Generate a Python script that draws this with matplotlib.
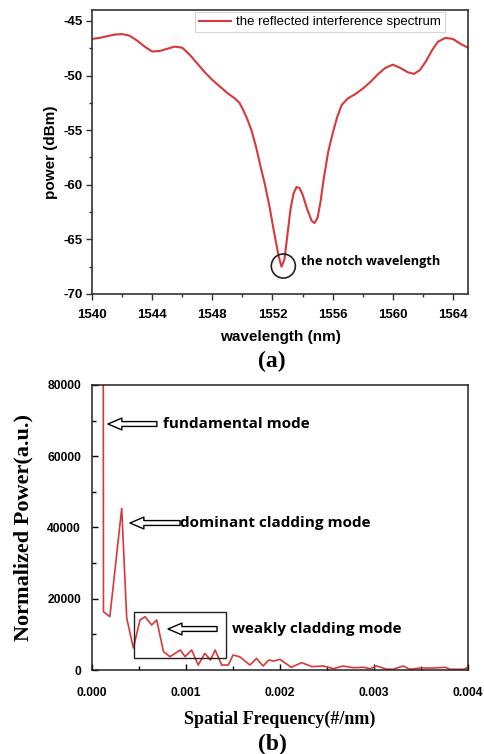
import matplotlib
matplotlib.use("Agg")
import matplotlib.pyplot as plt
from matplotlib.ticker import MultipleLocator

plt.rcParams["font.family"] = ["Liberation Sans", "DejaVu Sans"]
plt.rcParams["axes.unicode_minus"] = False

RED = "#d8383b"
SPINE = "#333333"

# (a) reflected interference spectrum
wavelength = [
    1540.0, 1540.5, 1541.0, 1541.5, 1542.0, 1542.5, 1543.0, 1543.5, 1544.0, 1544.5,
    1545.0, 1545.5, 1546.0, 1546.5, 1547.0, 1547.5, 1548.0, 1548.5, 1549.0, 1549.5,
    1549.8, 1550.0, 1550.3, 1550.6, 1550.9, 1551.2, 1551.5, 1551.8, 1552.1, 1552.4,
    1552.6, 1552.8, 1553.0, 1553.2, 1553.4, 1553.6, 1553.8, 1554.0, 1554.3, 1554.6,
    1554.8, 1555.0, 1555.2, 1555.4, 1555.7, 1556.0, 1556.3, 1556.6, 1557.0, 1557.5,
    1558.0, 1558.5, 1559.0, 1559.5, 1560.0, 1560.5, 1561.0, 1561.4, 1561.8, 1562.2,
    1562.6, 1563.0, 1563.5, 1564.0, 1564.5, 1565.0,
]
power_dbm = [
    -46.65, -46.55, -46.4, -46.25, -46.2, -46.35, -46.8, -47.35, -47.8, -47.75,
    -47.55, -47.35, -47.45, -48.1, -48.9, -49.7, -50.4, -51.0, -51.6, -52.1,
    -52.5, -53.0, -53.9, -55.0, -56.5, -58.3, -60.0, -62.0, -64.3, -66.5,
    -67.5, -66.8, -64.5, -62.2, -60.8, -60.2, -60.3, -60.9, -62.2, -63.3,
    -63.5, -63.0, -61.5, -59.5, -57.0, -55.3, -53.8, -52.7, -52.1, -51.7,
    -51.2, -50.6, -49.9, -49.3, -49.0, -49.3, -49.7, -49.85, -49.5, -48.7,
    -47.7, -46.9, -46.55, -46.65, -47.1, -47.45,
]
notch = (1552.72, -67.44)

# (b) spatial frequency spectrum
spatial_freq = [
    0.000115, 0.000122, 0.00019, 0.000316, 0.000369, 0.00044, 0.00051, 0.000564,
    0.000635, 0.000688, 0.00076, 0.00083, 0.00094, 0.00099, 0.00106, 0.00113,
    0.0012, 0.00126, 0.00131, 0.00138, 0.00145, 0.0015, 0.00157, 0.00168,
    0.00175, 0.00182, 0.00188, 0.00193, 0.002, 0.00212, 0.00223, 0.00234,
    0.00246, 0.00257, 0.00267, 0.00278, 0.00289, 0.00296, 0.00303, 0.00313,
    0.0032, 0.00331, 0.00338, 0.00349, 0.00363, 0.00376, 0.00381, 0.00395, 0.004,
]
norm_power = [
    250000, 16370, 14970, 45380, 14600, 6170, 14000, 14970,
    12630, 14030, 5150, 3740, 5610, 3740, 5610, 1400,
    4680, 2800, 5610, 1400, 1400, 4200, 3740, 1400,
    3270, 1120, 2800, 2520, 2990, 750, 2060, 940,
    1120, 370, 1120, 650, 750, 370, 1120, 280,
    200, 1120, 200, 560, 560, 750, 200, 200, 750,
]

fig = plt.figure(figsize=(4.85, 7.54), dpi=100)

# ---- panel (a)
ax1 = fig.add_axes([0.1897, 0.6101, 0.7753, 0.3766])
ax1.plot(wavelength, power_dbm, color=RED, lw=1.5,
         label="the reflected interference spectrum")
ax1.set_xlim(1540, 1565)
ax1.set_ylim(-70, -44)
ax1.xaxis.set_major_locator(MultipleLocator(4))
ax1.xaxis.set_minor_locator(MultipleLocator(2))
ax1.yaxis.set_major_locator(MultipleLocator(5))
ax1.yaxis.set_minor_locator(MultipleLocator(2.5))
ax1.tick_params(which="both", direction="out", color=SPINE, width=1.0)
ax1.tick_params(which="major", length=4, labelsize=9.5)
ax1.tick_params(which="minor", length=2.5)
ax1.tick_params(axis="x", pad=7)
ax1.tick_params(axis="y", pad=2.5)
for lab in ax1.get_xticklabels() + ax1.get_yticklabels():
    lab.set_fontweight("bold")
for sp in ax1.spines.values():
    sp.set_color(SPINE)
    sp.set_linewidth(1.2)
ax1.set_xlabel("wavelength (nm)", fontsize=11, fontweight="bold", labelpad=6)
ax1.set_ylabel("power (dBm)", fontsize=11, fontweight="bold", labelpad=4)
leg = ax1.legend(loc="upper right", bbox_to_anchor=(0.939, 0.993), borderaxespad=0,
                 fontsize=9.5, fancybox=False, handlelength=2.4, handletextpad=0.4,
                 borderpad=0.3)
leg.get_frame().set_edgecolor("#cccccc")
leg.get_frame().set_linewidth(0.8)
ax1.scatter([notch[0]], [notch[1]], s=300, facecolors="none", edgecolors="#222222",
            linewidths=1.2, zorder=3)
ax1.text(1553.9, -67.0, "the notch wavelength", fontsize=9.2, fontweight="bold",
         family=["Open Sans", "DejaVu Sans"], va="center", ha="left")

# ---- panel (b)
ax2 = fig.add_axes([0.1897, 0.1114, 0.7753, 0.3780])
ax2.plot(spatial_freq, norm_power, color=RED, lw=1.2)
ax2.set_xlim(0, 0.004)
ax2.set_ylim(0, 80000)
ax2.xaxis.set_major_locator(MultipleLocator(0.001))
ax2.xaxis.set_minor_locator(MultipleLocator(0.0005))
ax2.yaxis.set_major_locator(MultipleLocator(20000))
ax2.yaxis.set_minor_locator(MultipleLocator(10000))
ax2.xaxis.set_major_formatter(plt.FormatStrFormatter("%.3f"))
ax2.tick_params(which="both", direction="in", color="black", width=1.0)
ax2.tick_params(which="major", length=4, labelsize=8.7)
ax2.tick_params(which="minor", length=3)
ax2.tick_params(axis="x", pad=12)
ax2.tick_params(axis="y", pad=8)
for lab in ax2.get_xticklabels() + ax2.get_yticklabels():
    lab.set_fontweight("bold")
for sp in ax2.spines.values():
    sp.set_color("#222222")
    sp.set_linewidth(1.1)
ax2.set_xlabel("Spatial Frequency(#/nm)", fontsize=13, fontweight="bold",
               family="Liberation Serif", labelpad=9)
ax2.set_ylabel("Normalized Power(a.u.)", fontsize=16, fontweight="bold",
               family="Liberation Serif", labelpad=10)

arrow = dict(arrowstyle="simple,head_length=1.0,head_width=0.85,tail_width=0.35",
             fc="white", ec="black", lw=1.0, mutation_scale=10, shrinkA=0, shrinkB=0)
mode_font = dict(fontsize=11, fontweight="bold", family=["Open Sans", "DejaVu Sans"],
                 va="center", ha="left")
ax2.annotate("", xy=(0.00017, 69050), xytext=(0.00069, 69050), arrowprops=arrow)
ax2.text(0.000755, 69050, "fundamental mode", **mode_font)
ax2.annotate("", xy=(0.000404, 41260), xytext=(0.000936, 41260), arrowprops=arrow)
ax2.text(0.000936, 41260, "dominant cladding mode", **mode_font)
ax2.annotate("", xy=(0.000809, 11510), xytext=(0.00133, 11510), arrowprops=arrow)
ax2.text(0.00149, 11510, "weakly cladding mode", **mode_font)
ax2.add_patch(plt.Rectangle((0.000447, 3280), 0.000979, 13090, fill=False,
                            ec="#222222", lw=1.0, zorder=4))

fig.text(0.561, 0.52, "(a)", fontsize=17, fontweight="bold", family="Liberation Serif",
         ha="center", va="center")
fig.text(0.561, 0.012, "(b)", fontsize=17, fontweight="bold", family="Liberation Serif",
         ha="center", va="center")

fig.savefig("out.png", dpi=100, facecolor="white")
